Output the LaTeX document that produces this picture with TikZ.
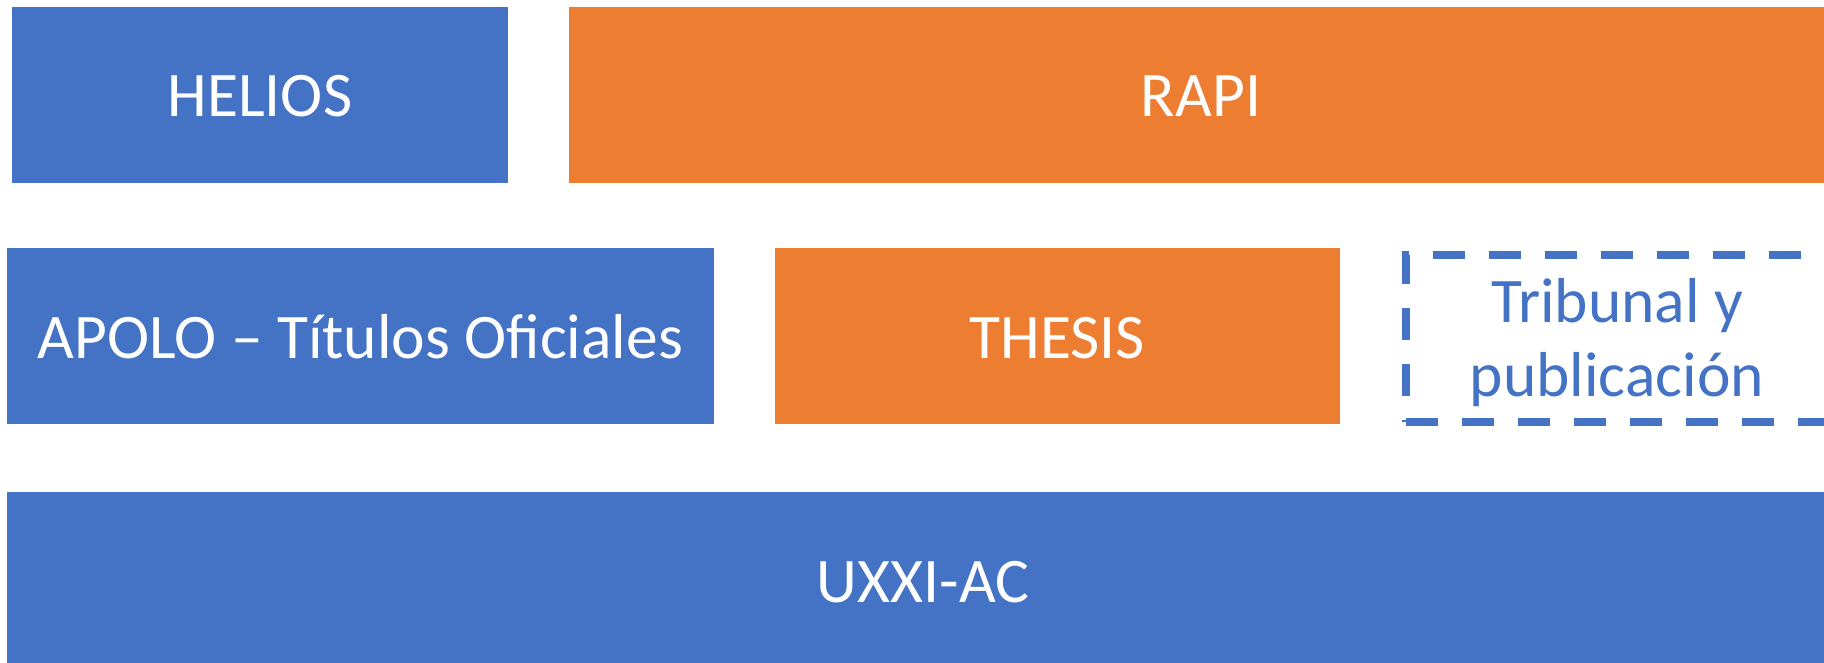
\documentclass[tikz,border=0pt]{standalone}
\usepackage{fontspec}
\setmainfont{Carlito}
\definecolor{pblue}{HTML}{4472C4}
\definecolor{porange}{HTML}{ED7D31}
\begin{document}
\begin{tikzpicture}[x=1pt,y=-1pt,
  box/.style={rectangle, inner sep=0pt, outer sep=0pt, minimum height=176pt,
    text=white, font=\fontsize{63.5}{74}\selectfont, text height=44pt, text depth=0pt},
  bluebox/.style={box, fill=pblue},
  orangebox/.style={box, fill=porange},
  dashbox/.style={rectangle, inner sep=0pt, outer sep=0pt, draw=pblue, line width=8pt,
    dash pattern=on 32pt off 24pt, text=pblue, align=center,
    font=\fontsize{63.5}{74}\selectfont, text height=118pt, text depth=3pt}]
\useasboundingbox (0,0) rectangle (1824,663);
\clip (0,0) rectangle (1824,663);
\node[bluebox, minimum width=496pt] (helios) at (260,95) {HELIOS};
\node[orangebox, minimum width=1264pt] (rapi) at (1201,95) {RAPI};
\node[bluebox, minimum width=707pt] (apolo) at (360.5,336) {APOLO – Títulos Oficiales};
\node[orangebox, minimum width=565pt] (thesis) at (1057.5,336) {THESIS};
\node[dashbox, minimum width=422pt, minimum height=167pt] (trib) at (1617,338.5) {Tribunal y\\publicación};
\node[bluebox, minimum width=1832pt] (uxxi) at (923,580) {UXXI-AC};
\end{tikzpicture}
\end{document}
